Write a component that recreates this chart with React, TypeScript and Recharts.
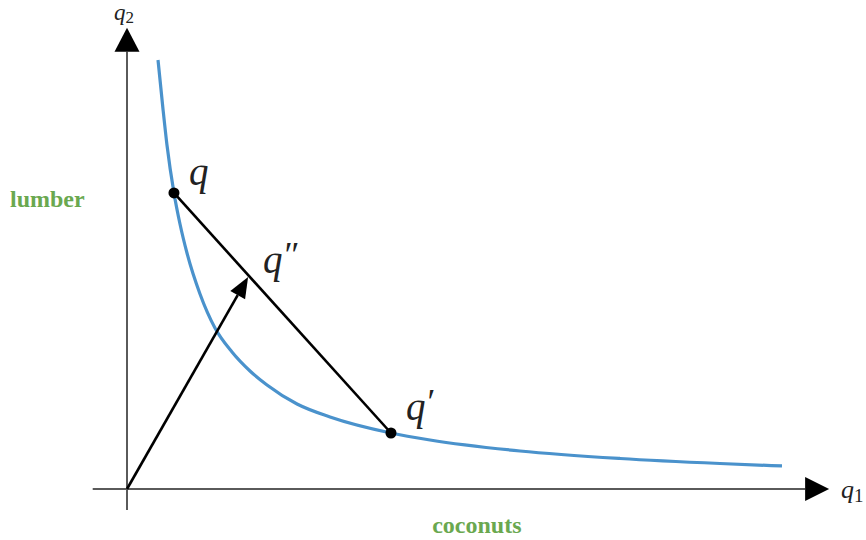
import React from 'react';
import { ComposedChart, Line, XAxis, YAxis, ReferenceLine, ReferenceDot } from 'recharts';

// Indifference curve (q1 = coconuts, q2 = lumber)
const curveQ1 = [0.443, 0.514, 0.571, 0.671, 0.757, 0.857, 1.043, 1.257, 1.5, 1.757, 2.0, 2.429, 2.9, 3.771, 4.329, 5.614, 7.043, 8.471, 9.357];
const curveQ2 = [6.129, 5.429, 4.914, 4.229, 3.786, 3.371, 2.786, 2.3, 1.957, 1.686, 1.486, 1.214, 1.029, 0.8, 0.7, 0.543, 0.436, 0.364, 0.329];

// Bundles
const bundleNames = ['q', 'q′', 'q″'];
const bundleQ1 = [0.671, 3.771, 1.73];
const bundleQ2 = [4.229, 0.8, 3.03];

// Axes extents
const xAxisRange = [-0.49, 10.03];
const yAxisRange = [-0.3, 6.59];
const xDomain = [-1.8143, 10.5571];
const yDomain = [-0.7286, 6.9857];

const axisNames = ['q', '1', 'q', '2'];
const axisTitles = ['coconuts', 'lumber'];

const curve = curveQ1.map((x, i) => ({ x, y: curveQ2[i] }));

const SERIF = '"Liberation Serif", "Times New Roman", serif';
const GREEN = '#6aa84f';
const AXIS = '#5a5a5a';

function head(x1: number, y1: number, x2: number, y2: number, len: number, half: number) {
  const dx = x2 - x1;
  const dy = y2 - y1;
  const d = Math.sqrt(dx * dx + dy * dy) || 1;
  const ux = dx / d;
  const uy = dy / d;
  const bx = x2 - ux * len;
  const by = y2 - uy * len;
  const px = -uy;
  const py = ux;
  return {
    bx,
    by,
    pts: `${x2},${y2} ${bx + px * half},${by + py * half} ${bx - px * half},${by - py * half}`,
  };
}

const XAxisShape = (p: any) => {
  const { x1, y1, x2, y2 } = p;
  const h = head(x1, y1, x2, y2, 24, 12);
  return (
    <g>
      <line x1={x1} y1={y1} x2={h.bx} y2={h.by} stroke={AXIS} strokeWidth={2} />
      <polygon points={h.pts} fill="#000" />
      <text x={x2 + 12} y={y2 + 9} fontFamily={SERIF} fontStyle="italic" fontSize={26} fill="#222">
        {axisNames[0]}
        <tspan fontStyle="normal" fontSize={19} dy={4}>{axisNames[1]}</tspan>
      </text>
      <text x={(x1 + x2) / 2 + 16} y={y2 + 44} fontFamily={SERIF} fontWeight="bold" fontSize={24} fill={GREEN} textAnchor="middle">
        {axisTitles[0]}
      </text>
    </g>
  );
};

const YAxisShape = (p: any) => {
  const { x1, y1, x2, y2 } = p;
  const h = head(x1, y1, x2, y2, 24, 12.5);
  return (
    <g>
      <line x1={x1} y1={y1} x2={h.bx} y2={h.by} stroke={AXIS} strokeWidth={2} />
      <polygon points={h.pts} fill="#000" />
      <text x={x2 - 13} y={y2 - 8} fontFamily={SERIF} fontStyle="italic" fontSize={23} fill="#222">
        {axisNames[2]}
        <tspan fontStyle="normal" fontSize={17} dy={3}>{axisNames[3]}</tspan>
      </text>
      <text x={x2 - 117} y={y2 + 179} fontFamily={SERIF} fontWeight="bold" fontSize={24} fill={GREEN}>
        {axisTitles[1]}
      </text>
    </g>
  );
};

const VectorShape = (p: any) => {
  const { x1, y1, x2, y2 } = p;
  const h = head(x1, y1, x2, y2, 21, 8.5);
  return (
    <g>
      <line x1={x1} y1={y1} x2={h.bx} y2={h.by} stroke="#000" strokeWidth={2.6} />
      <polygon points={h.pts} fill="#000" />
    </g>
  );
};

const labelOffsets = [
  { dx: 15, dy: -8 },
  { dx: 15, dy: -13 },
  { dx: 15, dy: -4 },
];

const makeDot = (i: number, withDot: boolean) => (p: any) => {
  const { cx, cy } = p;
  const name = bundleNames[i];
  const base = name.slice(0, 1);
  const primes = name.slice(1);
  return (
    <g>
      {withDot && <circle cx={cx} cy={cy} r={5.5} fill="#000" />}
      <text x={cx + labelOffsets[i].dx} y={cy + labelOffsets[i].dy} fontFamily={SERIF} fontStyle="italic" fontSize={39} fill="#222">
        {base}
        {primes && (
          <tspan fontStyle="normal" fontSize={36} dy={-6} dx={2}>
            {primes}
          </tspan>
        )}
      </text>
    </g>
  );
};

export default function App() {
  return (
    <div style={{ position: 'absolute', left: 0, top: 0, width: 866, height: 540, background: '#fff' }}>
      <ComposedChart width={866} height={540} data={curve} margin={{ top: 0, right: 0, bottom: 0, left: 0 }}>
        <XAxis type="number" dataKey="x" domain={xDomain} hide allowDataOverflow />
        <YAxis type="number" dataKey="y" domain={yDomain} hide allowDataOverflow />
        <ReferenceLine
          segment={[{ x: xAxisRange[0], y: 0 }, { x: xAxisRange[1], y: 0 }]}
          shape={XAxisShape}
          ifOverflow="visible"
        />
        <ReferenceLine
          segment={[{ x: 0, y: yAxisRange[0] }, { x: 0, y: yAxisRange[1] }]}
          shape={YAxisShape}
          ifOverflow="visible"
        />
        <Line
          type="monotone"
          dataKey="y"
          stroke="#4a92cc"
          strokeWidth={3.2}
          dot={false}
          activeDot={false}
          isAnimationActive={false}
        />
        <ReferenceLine
          segment={[{ x: bundleQ1[0], y: bundleQ2[0] }, { x: bundleQ1[1], y: bundleQ2[1] }]}
          stroke="#000"
          strokeWidth={2.6}
          ifOverflow="visible"
        />
        <ReferenceLine
          segment={[{ x: 0, y: 0 }, { x: bundleQ1[2], y: bundleQ2[2] }]}
          shape={VectorShape}
          ifOverflow="visible"
        />
        <ReferenceDot x={bundleQ1[0]} y={bundleQ2[0]} r={5.5} shape={makeDot(0, true)} ifOverflow="visible" />
        <ReferenceDot x={bundleQ1[1]} y={bundleQ2[1]} r={5.5} shape={makeDot(1, true)} ifOverflow="visible" />
        <ReferenceDot x={bundleQ1[2]} y={bundleQ2[2]} r={0} shape={makeDot(2, false)} ifOverflow="visible" />
      </ComposedChart>
    </div>
  );
}
